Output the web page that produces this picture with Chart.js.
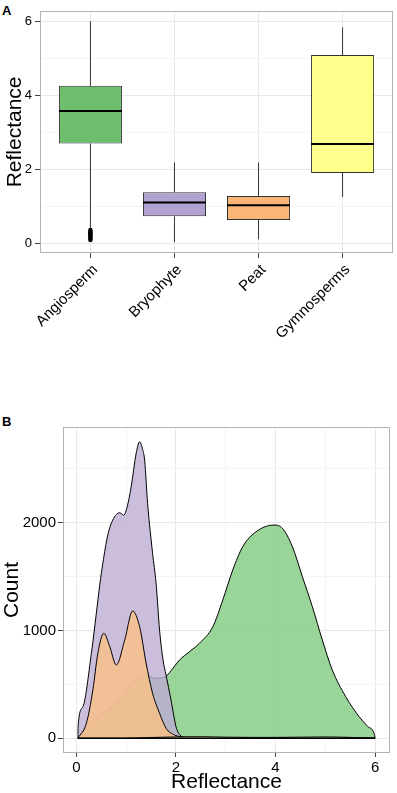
<!DOCTYPE html>
<html>
<head>
<meta charset="utf-8">
<script src="https://cdn.jsdelivr.net/npm/chart.js@4.4.0/dist/chart.umd.min.js"></script>
<style>
html, body { margin: 0; padding: 0; background: #fff; }
#panelA { position: absolute; left: 0; top: 0; width: 397px; height: 395px; }
#panelB { position: absolute; left: 0; top: 395px; width: 397px; height: 398px; }
.tag { position: absolute; left: 2px; font: bold 13px "Liberation Sans", Arial, sans-serif; color: #000; line-height: 13px; }
</style>
</head>
<body>
<div class="tag" style="top:4px">A</div>
<div class="tag" style="top:415px">B</div>
<div id="panelA"><canvas id="graficoA"></canvas></div>
<div id="panelB"><canvas id="graficoB"></canvas></div>
<script>
// panel A - boxplot
const categorias = ['Angiosperm', 'Bryophyte', 'Peat', 'Gymnosperms'];
const bigoteInf = [0.39, 0.04, 0.12, 1.26];
const q1 = [2.70, 0.74, 0.64, 1.91];
const mediana = [3.58, 1.11, 1.04, 2.69];
const q3 = [4.26, 1.39, 1.29, 5.09];
const bigoteSup = [6.00, 2.19, 2.19, 5.83];
const atipicosAngio = [0.10, 0.13, 0.16, 0.19, 0.22, 0.25, 0.28, 0.31, 0.34, 0.37];
const ticksA = [0, 2, 4, 6];
const ticksAmenor = [1, 3, 5];

// panel B - densidades (x, count)
const angioX = [0.03, 0.05, 0.33, 0.67, 1.00, 1.20, 1.34, 1.45, 1.57, 1.70, 1.80, 1.94, 2.07, 2.27, 2.47, 2.74, 2.94, 3.14, 3.34, 3.61, 3.97, 4.14, 4.34, 4.54, 4.74, 4.94, 5.14, 5.41, 5.68, 5.85, 5.98, 6.00];
const angioY = [0, 15, 170, 278, 448, 556, 594, 580, 556, 560, 575, 650, 726, 803, 881, 1035, 1283, 1561, 1777, 1917, 1979, 1948, 1777, 1499, 1221, 912, 634, 386, 200, 110, 46, 0];
const bryoX = [0.03, 0.035, 0.13, 0.30, 0.40, 0.47, 0.53, 0.63, 0.73, 0.87, 0.95, 1.02, 1.10, 1.20, 1.27, 1.33, 1.37, 1.43, 1.53, 1.60, 1.67, 1.74, 1.80, 1.90, 2.00, 2.08, 2.20, 3.00, 6.00];
const bryoY = [0, 123, 293, 788, 1160, 1430, 1623, 1886, 2025, 2093, 2071, 2150, 2334, 2644, 2751, 2680, 2582, 2180, 1716, 1440, 1005, 726, 587, 355, 108, 30, 4, 0, 0];
const turbaX = [0.03, 0.20, 0.33, 0.43, 0.55, 0.67, 0.80, 0.97, 1.13, 1.27, 1.40, 1.53, 1.67, 1.80, 1.97, 2.20, 2.60, 3.00, 6.00];
const turbaY = [0, 139, 448, 788, 974, 850, 680, 912, 1181, 1035, 696, 417, 232, 93, 30, 10, 4, 0, 0];
const gimnoX = [0.03, 1.00, 1.30, 1.60, 2.00, 2.50, 3.00, 3.50, 4.00, 4.50, 5.00, 5.50, 5.85, 6.00];
const gimnoY = [0, 0, 4, 8, 12, 14, 10, 8, 8, 10, 12, 8, 3, 0];
const baseX = [0.03, 6.00];
const baseY = [0, 0];
const ticksBx = [0, 2, 4, 6];
const ticksBxMenor = [1, 3, 5];
const ticksBy = [0, 1000, 2000];
const ticksByMenor = [500, 1500, 2500];

const fuente = '"Liberation Sans", Arial, Helvetica, sans-serif';
Chart.defaults.font.family = fuente;
Chart.defaults.color = '#000';
Chart.defaults.animation = false;

const coloresCaja = ['#6DBF6D', '#B1A2D2', '#FDB67A', '#FFFF8C'];

const marco = {
    id: 'marco',
    afterDraw(chart) {
        const a = chart.chartArea;
        const c = chart.ctx;
        c.save();
        c.strokeStyle = '#b3b3b3';
        c.lineWidth = 1;
        c.strokeRect(Math.round(a.left) + 0.5, Math.round(a.top) + 0.5, Math.round(a.right - a.left) - 1, Math.round(a.bottom - a.top) - 1);
        c.restore();
    }
};

function fijarTicks(mayores, menores) {
    return function (s) {
        s.ticks = mayores.concat(menores).sort((a, b) => a - b).map(v => ({ value: v }));
    };
}
function colorGrid(marcas) {
    return function (ctx) {
        if (!ctx.tick) return '#ebebeb';
        return marcas.includes(ctx.tick.value) ? '#e8e8e8' : '#f4f4f4';
    };
}
function colorTick(marcas) {
    return function (ctx) {
        if (!ctx.tick) return '#444';
        return marcas.includes(ctx.tick.value) ? '#444' : 'rgba(0,0,0,0)';
    };
}

// ---------- A ----------
let bigotes = [];
let medianas = [];
const mitadCaja = 0.375;
categorias.forEach(function (c, i) {
    bigotes.push({ x: i, y: bigoteInf[i] }, { x: i, y: q1[i] }, { x: i, y: null },
                 { x: i, y: q3[i] }, { x: i, y: bigoteSup[i] }, { x: i, y: null });
    medianas.push({ x: i - mitadCaja, y: mediana[i] }, { x: i + mitadCaja, y: mediana[i] }, { x: i + 0.5, y: null });
});

new Chart(document.getElementById('graficoA'), {
    type: 'bar',
    plugins: [marco],
    data: {
        datasets: [
            {
                type: 'bar',
                data: categorias.map((c, i) => ({ x: i, y: [q1[i], q3[i]] })),
                backgroundColor: coloresCaja,
                borderColor: '#333',
                borderWidth: 1,
                borderSkipped: false,
                barPercentage: 0.75,
                categoryPercentage: 1,
                order: 4
            },
            {
                type: 'line',
                data: bigotes,
                borderColor: '#333',
                borderWidth: 1,
                pointRadius: 0,
                spanGaps: false,
                order: 3
            },
            {
                type: 'line',
                data: medianas,
                borderColor: '#000',
                borderWidth: 2,
                pointRadius: 0,
                spanGaps: false,
                order: 2
            },
            {
                type: 'line',
                data: atipicosAngio.map(v => ({ x: 0, y: v })),
                showLine: false,
                pointRadius: 2.2,
                pointBackgroundColor: '#000',
                pointBorderWidth: 0,
                order: 1
            }
        ]
    },
    options: {
        responsive: true,
        maintainAspectRatio: false,
        layout: { padding: { top: 3, right: 4, left: 0, bottom: 0 } },
        plugins: { legend: { display: false }, tooltip: { enabled: false } },
        scales: {
            x: {
                type: 'linear',
                min: -0.6,
                max: 3.6,
                offset: false,
                grid: { offset: false, color: '#e8e8e8', tickColor: '#444', tickLength: 5 },
                border: { display: false },
                afterBuildTicks: fijarTicks([0, 1, 2, 3], []),
                ticks: {
                    autoSkip: false,
                    minRotation: 45,
                    maxRotation: 45,
                    padding: 3,
                    labelOffset: 5,
                    font: { size: 15 },
                    color: '#000',
                    callback: v => categorias[v] ?? ''
                },
                afterFit: function (s) { s.height = 142; s.paddingLeft = 0; s.paddingRight = 0; }
            },
            y: {
                min: -0.25,
                max: 6.28,
                grid: { color: colorGrid(ticksA), tickColor: colorTick(ticksA), tickLength: 5 },
                border: { display: false },
                afterBuildTicks: fijarTicks(ticksA, ticksAmenor),
                ticks: {
                    padding: 3,
                    font: { size: 13 },
                    color: '#000',
                    callback: v => ticksA.includes(v) ? v : ''
                },
                title: { display: true, text: 'Reflectance', font: { size: 21, lineHeight: 1 }, color: '#000', padding: { top: 4.5, bottom: 0 } },
                afterFit: function (s) { s.width = 40; }
            }
        }
    }
});

// ---------- B ----------
function serie(xs, ys) {
    return xs.map((x, i) => ({ x: x, y: ys[i] }));
}

new Chart(document.getElementById('graficoB'), {
    type: 'line',
    plugins: [marco],
    data: {
        datasets: [
            { data: serie(angioX, angioY), backgroundColor: 'rgba(127,201,127,0.8)', order: 4 },
            { data: serie(bryoX, bryoY), backgroundColor: 'rgba(190,174,212,0.8)', order: 3 },
            { data: serie(turbaX, turbaY), backgroundColor: 'rgba(253,192,134,0.8)', order: 2 },
            { data: serie(gimnoX, gimnoY), backgroundColor: 'rgba(255,255,153,0.8)', order: 1 },
            { data: serie(baseX, baseY), backgroundColor: 'rgba(0,0,0,0)', fill: false, borderWidth: 1.3, order: 0 }
        ].map(d => Object.assign({
            fill: 'origin',
            borderColor: '#000',
            borderWidth: 1,
            pointRadius: 0,
            cubicInterpolationMode: 'monotone'
        }, d))
    },
    options: {
        responsive: true,
        maintainAspectRatio: false,
        layout: { padding: { top: 32, right: 7, left: 0, bottom: 0 } },
        plugins: { legend: { display: false }, tooltip: { enabled: false } },
        scales: {
            x: {
                type: 'linear',
                min: -0.27,
                max: 6.3,
                grid: { color: colorGrid(ticksBx), tickColor: colorTick(ticksBx), tickLength: 4 },
                border: { display: false },
                afterBuildTicks: fijarTicks(ticksBx, ticksBxMenor),
                ticks: {
                    autoSkip: false,
                    maxRotation: 0,
                    padding: 2,
                    font: { size: 15 },
                    color: '#000',
                    callback: v => ticksBx.includes(v) ? v : ''
                },
                title: { display: true, text: 'Reflectance', font: { size: 21, lineHeight: 1 }, color: '#000', padding: { top: 0, bottom: 0 } },
                afterFit: function (s) { s.height = 40; s.paddingLeft = 0; s.paddingRight = 0; }
            },
            y: {
                min: -137,
                max: 2889,
                grid: { color: colorGrid(ticksBy), tickColor: colorTick(ticksBy), tickLength: 5 },
                border: { display: false },
                afterBuildTicks: fijarTicks(ticksBy, ticksByMenor),
                ticks: {
                    autoSkip: false,
                    padding: 2,
                    font: { size: 15 },
                    color: '#000',
                    callback: v => ticksBy.includes(v) ? v : ''
                },
                title: { display: true, text: 'Count', font: { size: 21, lineHeight: 1 }, color: '#000', padding: { top: 2, bottom: 0 } },
                afterFit: function (s) { s.width = 63; }
            }
        }
    }
});
</script>
</body>
</html>
